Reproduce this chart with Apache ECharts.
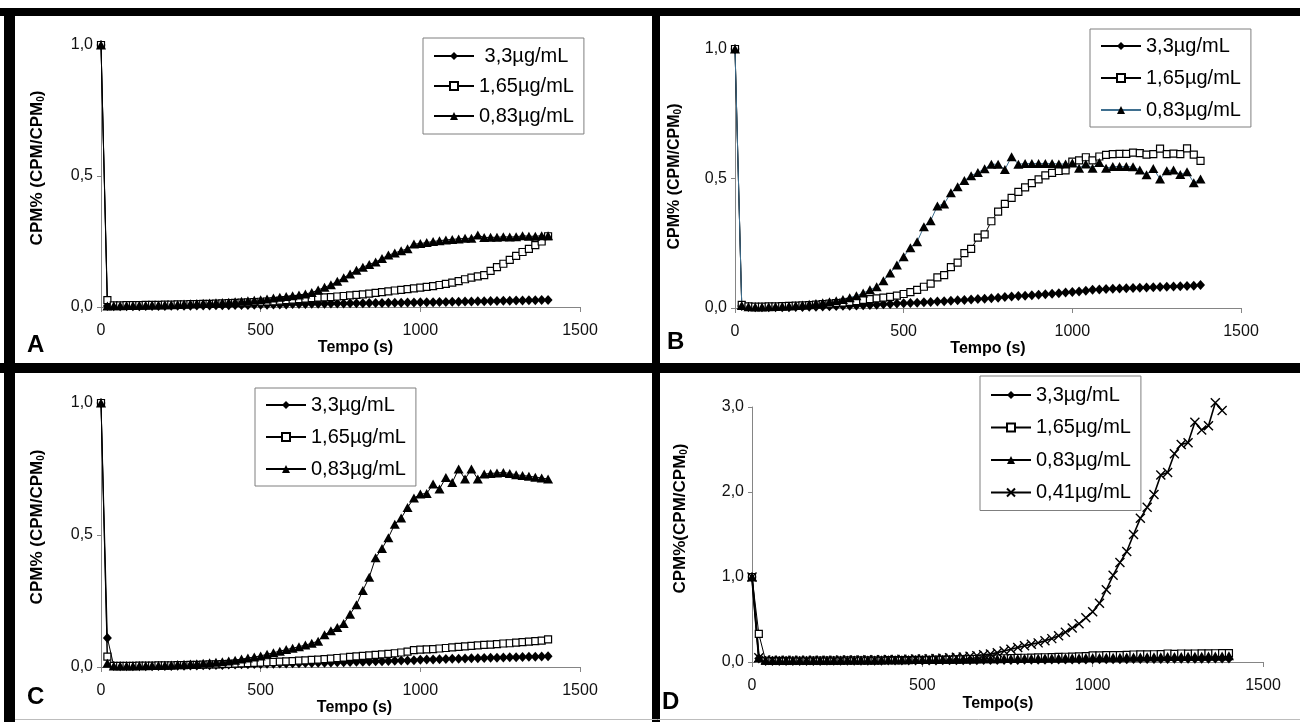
<!DOCTYPE html>
<html><head><meta charset="utf-8">
<script src="https://cdn.jsdelivr.net/npm/echarts@6/dist/echarts.min.js"></script>
<style>html,body{margin:0;padding:0;background:#fff}#c{width:1300px;height:722px}</style>
</head><body><div id="c"></div><script>
const FONT = '"Liberation Sans", Arial, sans-serif';

// time (s)
const times = [0,20,40,60,80,100,120,140,160,180,
 200,220,240,260,280,300,320,340,360,380,
 400,420,440,460,480,500,520,540,560,580,
 600,620,640,660,680,700,720,740,760,780,
 800,820,840,860,880,900,920,940,960,980,
 1000,1020,1040,1060,1080,1100,1120,1140,1160,1180,
 1200,1220,1240,1260,1280,1300,1320,1340,1360,1380,
 1400];

const xTicks = [0, 500, 1000, 1500];
const lbl33 = '3,3µg/mL', lbl165 = '1,65µg/mL', lbl083 = '0,83µg/mL', lbl041 = '0,41µg/mL';

// Panel A
const aDiamond = [1.000,0.004,0.003,0.003,0.003,0.003,0.003,0.004,0.004,0.004,
 0.004,0.005,0.005,0.005,0.005,0.006,0.006,0.006,0.007,0.007,
 0.007,0.008,0.008,0.008,0.009,0.009,0.009,0.010,0.010,0.010,
 0.011,0.011,0.011,0.012,0.012,0.012,0.013,0.013,0.013,0.014,
 0.014,0.014,0.015,0.015,0.015,0.016,0.016,0.016,0.017,0.017,
 0.018,0.018,0.018,0.019,0.019,0.020,0.020,0.021,0.021,0.022,
 0.022,0.023,0.023,0.024,0.024,0.025,0.025,0.026,0.026,0.027,
 0.027];
const aSquare = [1.000,0.026,0.006,0.006,0.007,0.007,0.007,0.008,0.008,0.008,
 0.009,0.009,0.010,0.010,0.011,0.011,0.012,0.012,0.013,0.014,
 0.015,0.016,0.017,0.018,0.019,0.020,0.021,0.022,0.024,0.026,
 0.028,0.030,0.032,0.034,0.036,0.037,0.038,0.040,0.042,0.044,
 0.046,0.048,0.051,0.054,0.057,0.060,0.063,0.065,0.068,0.071,
 0.074,0.077,0.080,0.084,0.088,0.093,0.099,0.106,0.112,0.117,
 0.122,0.138,0.152,0.165,0.180,0.195,0.210,0.222,0.236,0.250,
 0.270];
const aTriangle = [1.000,0.004,0.005,0.005,0.006,0.006,0.007,0.007,0.008,0.008,
 0.009,0.009,0.010,0.011,0.012,0.013,0.014,0.015,0.016,0.017,
 0.018,0.020,0.022,0.024,0.026,0.028,0.031,0.034,0.037,0.040,
 0.043,0.046,0.050,0.055,0.065,0.075,0.085,0.098,0.112,0.126,
 0.140,0.152,0.162,0.172,0.185,0.198,0.206,0.215,0.222,0.240,
 0.242,0.246,0.250,0.253,0.256,0.258,0.260,0.262,0.262,0.275,
 0.265,0.266,0.266,0.268,0.267,0.268,0.272,0.270,0.270,0.272,
 0.272];

// Panel B (0..1380 s)
const bDiamond = [1.000,0.008,0.004,0.003,0.003,0.003,0.003,0.003,0.003,0.004,
 0.004,0.005,0.005,0.006,0.007,0.008,0.009,0.009,0.010,0.011,
 0.012,0.013,0.014,0.015,0.017,0.018,0.019,0.020,0.022,0.023,
 0.025,0.026,0.028,0.030,0.031,0.033,0.035,0.036,0.038,0.040,
 0.042,0.044,0.046,0.047,0.049,0.051,0.053,0.055,0.057,0.060,
 0.062,0.064,0.067,0.070,0.071,0.073,0.074,0.075,0.076,0.077,
 0.078,0.079,0.080,0.081,0.082,0.083,0.084,0.085,0.086,0.089];
const bSquare = [1.000,0.012,0.006,0.005,0.005,0.006,0.006,0.007,0.008,0.009,
 0.010,0.011,0.013,0.015,0.017,0.019,0.021,0.024,0.027,0.031,
 0.034,0.037,0.040,0.043,0.048,0.054,0.061,0.070,0.082,0.094,
 0.118,0.127,0.158,0.175,0.212,0.228,0.272,0.284,0.335,0.372,
 0.402,0.425,0.448,0.466,0.482,0.497,0.512,0.522,0.529,0.531,
 0.565,0.570,0.582,0.570,0.585,0.591,0.594,0.595,0.595,0.600,
 0.598,0.592,0.594,0.615,0.594,0.596,0.594,0.616,0.592,0.568];
const bTriangle = [1.000,0.010,0.005,0.004,0.004,0.005,0.006,0.007,0.008,0.010,
 0.012,0.014,0.017,0.020,0.024,0.028,0.033,0.040,0.047,0.058,
 0.070,0.082,0.105,0.135,0.166,0.198,0.233,0.256,0.314,0.337,
 0.394,0.402,0.445,0.468,0.492,0.511,0.523,0.538,0.555,0.555,
 0.535,0.584,0.555,0.558,0.558,0.558,0.558,0.558,0.556,0.556,
 0.560,0.540,0.556,0.540,0.562,0.540,0.546,0.546,0.546,0.545,
 0.533,0.514,0.539,0.498,0.530,0.533,0.515,0.526,0.484,0.498];

// Panel C
const cDiamond = [1.000,0.110,0.004,0.003,0.003,0.003,0.003,0.003,0.003,0.004,
 0.004,0.004,0.005,0.005,0.006,0.006,0.007,0.007,0.008,0.008,
 0.009,0.009,0.010,0.010,0.011,0.011,0.012,0.012,0.013,0.013,
 0.014,0.014,0.015,0.015,0.016,0.016,0.017,0.018,0.018,0.019,
 0.020,0.020,0.021,0.022,0.022,0.023,0.024,0.025,0.025,0.026,
 0.027,0.028,0.028,0.029,0.030,0.031,0.031,0.032,0.033,0.033,
 0.034,0.035,0.035,0.036,0.037,0.037,0.038,0.039,0.039,0.040,
 0.041];
const cSquare = [1.000,0.039,0.004,0.004,0.004,0.004,0.005,0.005,0.005,0.006,
 0.006,0.006,0.007,0.007,0.008,0.008,0.009,0.010,0.010,0.011,
 0.012,0.013,0.014,0.015,0.016,0.017,0.018,0.019,0.020,0.021,
 0.022,0.024,0.025,0.027,0.028,0.030,0.032,0.034,0.036,0.038,
 0.040,0.042,0.044,0.046,0.048,0.050,0.052,0.055,0.058,0.064,
 0.066,0.067,0.068,0.070,0.072,0.074,0.076,0.078,0.080,0.082,
 0.084,0.085,0.087,0.089,0.090,0.092,0.094,0.096,0.098,0.100,
 0.105];
const cTriangle = [1.000,0.014,0.004,0.004,0.004,0.004,0.005,0.005,0.006,0.006,
 0.007,0.008,0.009,0.010,0.011,0.012,0.014,0.016,0.018,0.020,
 0.023,0.026,0.030,0.034,0.038,0.042,0.048,0.054,0.060,0.066,
 0.071,0.077,0.083,0.090,0.098,0.122,0.137,0.150,0.165,0.200,
 0.236,0.290,0.340,0.414,0.449,0.490,0.541,0.564,0.604,0.640,
 0.655,0.657,0.693,0.674,0.718,0.699,0.750,0.712,0.750,0.712,
 0.731,0.733,0.735,0.737,0.733,0.728,0.725,0.723,0.719,0.716,
 0.712];

// Panel D
const dDiamond = [1.000,0.040,0.012,0.012,0.012,0.012,0.012,0.013,0.013,0.013,
 0.013,0.014,0.014,0.014,0.015,0.015,0.015,0.016,0.016,0.016,
 0.017,0.017,0.017,0.018,0.018,0.018,0.019,0.019,0.020,0.020,
 0.021,0.021,0.022,0.022,0.023,0.023,0.024,0.024,0.025,0.025,
 0.026,0.026,0.027,0.027,0.028,0.028,0.029,0.029,0.030,0.030,
 0.031,0.031,0.032,0.032,0.033,0.033,0.034,0.034,0.035,0.035,
 0.036,0.036,0.037,0.037,0.038,0.038,0.039,0.039,0.040,0.040,
 0.041];
const dSquare = [1.000,0.330,0.015,0.014,0.014,0.014,0.015,0.015,0.015,0.016,
 0.016,0.016,0.017,0.017,0.018,0.018,0.019,0.019,0.020,0.020,
 0.021,0.021,0.022,0.023,0.024,0.025,0.026,0.027,0.028,0.029,
 0.030,0.032,0.034,0.036,0.038,0.040,0.042,0.044,0.046,0.048,
 0.050,0.052,0.054,0.056,0.058,0.060,0.062,0.064,0.066,0.068,
 0.078,0.079,0.080,0.081,0.082,0.083,0.088,0.089,0.090,0.091,
 0.092,0.100,0.096,0.100,0.098,0.100,0.101,0.102,0.103,0.104,
 0.105];
const dTriangle = [1.000,0.050,0.020,0.020,0.020,0.020,0.020,0.021,0.021,0.021,
 0.022,0.022,0.022,0.023,0.023,0.024,0.024,0.025,0.025,0.026,
 0.026,0.027,0.027,0.028,0.028,0.029,0.030,0.030,0.031,0.032,
 0.033,0.034,0.035,0.036,0.037,0.038,0.039,0.040,0.041,0.042,
 0.043,0.044,0.045,0.046,0.047,0.048,0.049,0.050,0.051,0.052,
 0.053,0.054,0.055,0.056,0.057,0.058,0.059,0.060,0.061,0.062,
 0.063,0.064,0.065,0.066,0.067,0.068,0.069,0.070,0.071,0.072,
 0.073];
const dCross = [1.000,0.050,0.025,0.020,0.020,0.020,0.020,0.020,0.021,0.021,
 0.021,0.022,0.022,0.023,0.023,0.024,0.025,0.026,0.027,0.028,
 0.029,0.030,0.031,0.033,0.034,0.036,0.038,0.040,0.045,0.050,
 0.055,0.060,0.068,0.075,0.085,0.095,0.110,0.130,0.150,0.170,
 0.190,0.210,0.225,0.250,0.275,0.310,0.350,0.400,0.450,0.520,
 0.590,0.690,0.850,1.020,1.170,1.300,1.500,1.690,1.820,1.970,
 2.200,2.230,2.450,2.560,2.580,2.820,2.730,2.780,3.050,2.960];

function pts(vals) { return vals.map((v, i) => [times[i], v]); }
function symOf(kind) {
  if (kind === 'd') return { symbol: 'diamond', symbolSize: [9, 10], itemStyle: { color: '#000' } };
  if (kind === 's') return { symbol: 'rect', symbolSize: 7, itemStyle: { color: '#fff', borderColor: '#000', borderWidth: 1.2 } };
  if (kind === 't') return { symbol: 'triangle', symbolSize: [10, 9], itemStyle: { color: '#000' } };
  return { symbol: 'path://M0,0L10,10M0,10L10,0', symbolSize: 9, itemStyle: { color: '#000', borderColor: '#000', borderWidth: 1.4 } };
}
function line(panel, idx, label, vals, kind, lineColor, lineWidth, noClip) {
  return Object.assign({
    type: 'line', name: panel + '|' + label, xAxisIndex: idx, yAxisIndex: idx,
    data: pts(vals), showSymbol: true, showAllSymbol: true, animation: false,
    clip: !noClip,
    lineStyle: { color: lineColor || '#000', width: lineWidth || 1 },
    emphasis: { disabled: true }
  }, symOf(kind));
}
function legend(panel, labels, left, top, gap, pad) {
  return {
    orient: 'vertical', left: left, top: top, itemGap: gap, itemWidth: 40, itemHeight: 10,
    padding: pad, data: labels.map(l => panel + '|' + l), formatter: n => n.split('|')[1],
    borderColor: '#7f7f7f', borderWidth: 1, backgroundColor: '#fff', selectedMode: false,
    textStyle: { fontFamily: FONT, fontSize: 20, color: '#000', lineHeight: 20 }
  };
}
function xAxis(idx, name, gap, pad) {
  return {
    type: 'value', gridIndex: idx, min: xTicks[0], max: xTicks[xTicks.length - 1], interval: xTicks[1] - xTicks[0],
    splitLine: { show: false },
    axisLine: { lineStyle: { color: '#858585', width: 1 } },
    axisTick: { show: true, length: 5, lineStyle: { color: '#858585' } },
    axisLabel: { fontFamily: FONT, fontSize: 16, color: '#111', margin: 16, formatter: v => String(v) },
    name: name, nameLocation: 'middle', nameGap: gap,
    nameTextStyle: { fontFamily: FONT, fontSize: 16, fontWeight: 'bold', color: '#000', padding: pad }
  };
}
function yAxis(idx, max, interval, name, gap, size, pad) {
  return {
    type: 'value', gridIndex: idx, min: 0, max: max, interval: interval,
    splitLine: { show: false },
    axisLine: { show: true, lineStyle: { color: '#858585', width: 1 } },
    axisTick: { show: true, length: 4, lineStyle: { color: '#858585' } },
    axisLabel: { fontFamily: FONT, fontSize: 16, color: '#111', margin: 8,
      formatter: v => v.toFixed(1).replace('.', ',') },
    name: name, nameLocation: 'middle', nameRotate: 90, nameGap: gap,
    nameTextStyle: { fontFamily: FONT, fontSize: size, fontWeight: 'bold', color: '#000', padding: pad,
      rich: { s: { fontFamily: FONT, fontSize: 10, fontWeight: 'bold', color: '#000', verticalAlign: 'bottom' } } }
  };
}
function letter(t, x, y) {
  return { type: 'text', x: x, y: y, style: { text: t, font: 'bold 24px "Liberation Sans", Arial', fill: '#000', textVerticalAlign: 'middle' } };
}

const chart = echarts.init(document.getElementById('c'), null, { renderer: 'canvas' });
chart.setOption({
  animation: false,
  backgroundColor: '#fff',
  textStyle: { fontFamily: FONT },
  grid: [
    { left: 101, top: 45, width: 479, height: 262, outerBoundsMode: 'none' },
    { left: 735, top: 49, width: 506, height: 259, outerBoundsMode: 'none' },
    { left: 101, top: 403, width: 479, height: 264, outerBoundsMode: 'none' },
    { left: 752, top: 407, width: 511, height: 255, outerBoundsMode: 'none' }
  ],
  xAxis: [
    xAxis(0, 'Tempo (s)', 23, [0, 0, 0, 30]),
    xAxis(1, 'Tempo (s)', 27, [0, 0, 0, 0]),
    xAxis(2, 'Tempo (s)', 18, [0, 0, 0, 28]),
    xAxis(3, 'Tempo(s)', 34, [0, 19, 0, 0])
  ],
  yAxis: [
    yAxis(0, 1, 0.5, 'CPM% (CPM/CPM{s|0})', 55, 17, [0, 0, 0, 16]),
    yAxis(1, 1, 0.5, 'CPM% (CPM/CPM{s|0})', 52, 16, [0, 0, 0, 4]),
    yAxis(2, 1, 0.5, 'CPM% (CPM/CPM{s|0})', 55, 17, [0, 0, 0, 16]),
    yAxis(3, 3, 1, 'CPM%(CPM/CPM{s|0})', 63, 17, [0, 0, 0, 32])
  ],
  legend: [
    legend('A', [' ' + lbl33, lbl165, lbl083], 423, 38, 10, [8, 10, 8, 10]),
    legend('B', [lbl33, lbl165, lbl083], 1090, 29, 12, [7, 10, 7, 10]),
    legend('C', [lbl33, lbl165, lbl083], 255, 388, 12, [7, 10, 7, 10]),
    legend('D', [lbl33, lbl165, lbl083, lbl041], 980, 376, 12.5, [9, 10, 8, 10])
  ],
  series: [
    line('A', 0, ' ' + lbl33, aDiamond, 'd'),
    line('A', 0, lbl165, aSquare, 's'),
    line('A', 0, lbl083, aTriangle, 't'),
    line('B', 1, lbl33, bDiamond, 'd'),
    line('B', 1, lbl165, bSquare, 's'),
    line('B', 1, lbl083, bTriangle, 't', '#3f6f8f'),
    line('C', 2, lbl33, cDiamond, 'd'),
    line('C', 2, lbl165, cSquare, 's'),
    line('C', 2, lbl083, cTriangle, 't'),
    line('D', 3, lbl33, dDiamond, 'd'),
    line('D', 3, lbl165, dSquare, 's'),
    line('D', 3, lbl083, dTriangle, 't', '#000', 2),
    line('D', 3, lbl041, dCross, 'x', '#000', 1.6, true)
  ],
  graphic: [
    { type: 'rect', shape: { x: 0, y: 8, width: 1300, height: 8 }, style: { fill: '#000' } },
    { type: 'rect', shape: { x: 4, y: 8, width: 11, height: 714 }, style: { fill: '#000' } },
    { type: 'rect', shape: { x: 652, y: 8, width: 8, height: 714 }, style: { fill: '#000' } },
    { type: 'rect', shape: { x: 0, y: 363, width: 1300, height: 10 }, style: { fill: '#000' } },
    { type: 'line', shape: { x1: 15, y1: 719.5, x2: 1300, y2: 719.5 }, style: { stroke: '#bdbdbd', lineWidth: 1 } },
    letter('A', 27, 345),
    letter('B', 667, 342.5),
    letter('C', 27, 697.5),
    letter('D', 662, 702.5)
  ]
});
</script></body></html>
